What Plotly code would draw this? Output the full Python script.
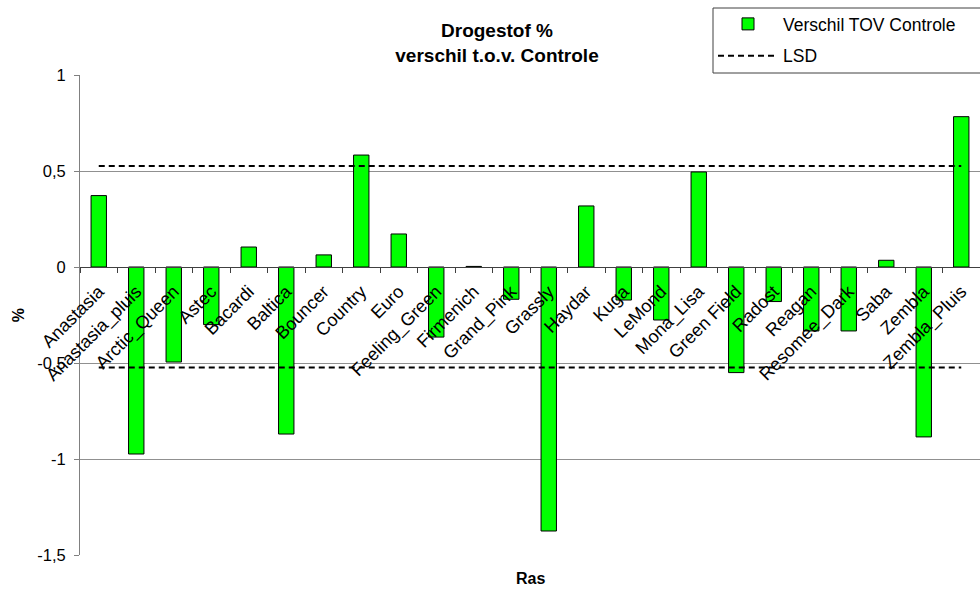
import plotly.graph_objects as go

categories = ["Anastasia", "Anastasia_pluis", "Arctic_Queen", "Astec", "Bacardi", "Baltica",
              "Bouncer", "Country", "Euro", "Feeling_Green", "Firmenich", "Grand_Pink",
              "Grassly", "Haydar", "Kuga", "LeMond", "Mona_Lisa", "Green Field", "Radost",
              "Reagan", "Resomee_Dark", "Saba", "Zembla", "Zembla_Pluis"]
verschil = [0.372, -0.974, -0.495, -0.30, 0.104, -0.87,
            0.063, 0.583, 0.172, -0.365, 0.003, -0.168,
            -1.375, 0.318, -0.172, -0.276, 0.495, -0.55, -0.18,
            -0.333, -0.333, 0.035, -0.885, 0.783]
lsd_upper = [0.526] * len(categories)
lsd_lower = [-0.524] * len(categories)
ytick_vals = [1, 0.5, 0, -0.5, -1, -1.5]
ytick_text = ["1", "0,5", "0", "-0,5", "-1", "-1,5"]

FONT = "Liberation Sans, Arial, sans-serif"

fig = go.Figure()
fig.add_trace(go.Bar(
    x=categories, y=verschil, name="Verschil TOV Controle",
    marker=dict(color="#00FF00", line=dict(color="black", width=1)),
    width=0.41, legendgroup="a",
))
fig.add_trace(go.Scatter(
    x=categories, y=lsd_upper, mode="lines", name="LSD",
    line=dict(color="black", width=2, dash="6px,4px"), legendgroup="b",
))
fig.add_trace(go.Scatter(
    x=categories, y=lsd_lower, mode="lines", name="LSD", showlegend=False,
    line=dict(color="black", width=2, dash="6px,4px"), legendgroup="b",
))

fig.update_layout(
    width=980, height=592,
    margin=dict(l=80, r=0, t=75, b=37),
    plot_bgcolor="white", paper_bgcolor="white",
    font=dict(family=FONT, size=16, color="black"),
    separators=",.",
    showlegend=True,
    title=dict(text="<b>Drogestof %</b><br><b>verschil t.o.v. Controle</b>",
               x=497 / 980, xref="container", xanchor="center",
               y=1 - 37 / 592, yref="container", yanchor="middle",
               font=dict(family=FONT, size=19, color="black")),
    legend=dict(x=(713 - 80) / 900, y=1 + (75 - 6) / 480, xanchor="left", yanchor="top",
                borderwidth=0, bgcolor="rgba(0,0,0,0)",
                font=dict(family=FONT, size=17.5), traceorder="grouped", tracegroupgap=6,
                itemwidth=60),
    shapes=[dict(type="rect", xref="paper", yref="paper",
                 x0=(713 - 80) / 900, x1=(990 - 80) / 900,
                 y0=1 + (75 - 73) / 480, y1=1 + (75 - 8) / 480,
                 line=dict(color="#404040", width=1), fillcolor="rgba(0,0,0,0)", layer="below")],
    xaxis=dict(type="category", range=[-0.5, len(categories) - 0.5],
               anchor="free", position=0.6,
               showline=True, linecolor="#404040", linewidth=1,
               ticks="outside", tickson="boundaries", ticklen=5, tickcolor="#404040",
               tickangle=-45, tickfont=dict(family=FONT, size=18), ticklabelstandoff=6,
               showgrid=False, fixedrange=True),
    yaxis=dict(range=[-1.5, 1], tickvals=ytick_vals, ticktext=ytick_text,
               showgrid=True, gridcolor="#909090", gridwidth=1,
               zeroline=True, zerolinecolor="#404040", zerolinewidth=1,
               showline=True, linecolor="#808080", linewidth=1,
               ticks="outside", ticklen=5, tickcolor="#808080",
               tickfont=dict(family=FONT, size=16.5), ticklabelstandoff=5,
               fixedrange=True,
               title=dict(text="%", font=dict(family=FONT, size=16, weight="bold"), standoff=8)),
    annotations=[dict(text="<b>Ras</b>", xref="paper", yref="paper",
                      x=0.5, y=-(578 - 555) / 480, xanchor="center", yanchor="middle",
                      showarrow=False, font=dict(family=FONT, size=16))],
)

fig.write_html("out.html", config={"displayModeBar": False},
               post_script="document.body.style.margin='0';")
